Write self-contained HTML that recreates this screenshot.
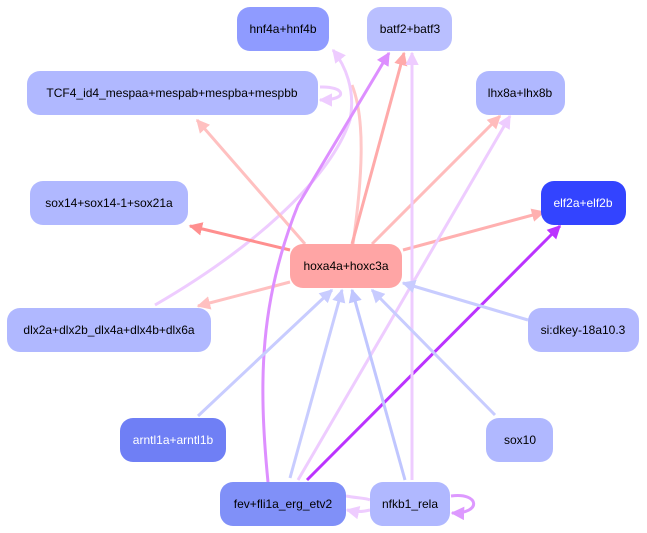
<!DOCTYPE html>
<html><head><meta charset="utf-8"><style>
html,body{margin:0;padding:0;background:#fff;}
svg{display:block;}
text{font-family:"Liberation Sans",sans-serif;font-size:12px;text-anchor:middle;dominant-baseline:central;}
</style></head><body>
<svg width="647" height="533" viewBox="0 0 647 533" xmlns="http://www.w3.org/2000/svg">
<defs>
<marker id="a" viewBox="0 0 10 10" refX="9" refY="5" markerWidth="4.5" markerHeight="4.5" orient="auto" markerUnits="strokeWidth"><path d="M0,0 L10,5 L0,10 z" fill="context-stroke"/></marker>
</defs>
<g fill="none" stroke-width="3" marker-end="url(#a)">
<path d="M353,244 C362,180 366,120 352,85" stroke="#ffc8c8" marker-end="none"/>
<path d="M155,305 C250,250 330,180 350,120 C356,90 345,65 333,50" stroke="#eeccff"/>
<path d="M305,244 L197,120" stroke="#ffc0c0"/>
<path d="M290,250 L190,226" stroke="#ff8f8f"/>
<path d="M290,282 L198,306" stroke="#ffc0c0"/>
<path d="M403,250 L544,212" stroke="#ffb0b0"/>
<path d="M372,244 L500,116" stroke="#ffbcbc"/>
<path d="M352,244 L404,53" stroke="#ffaaaa"/>
<path d="M268,482 C258,380 260,300 298,205 L389,53" stroke="#dd8fff"/>
<path d="M307,480 L560,226" stroke="#bb33ff"/>
<path d="M290,478 L342,290" stroke="#c8ccff"/>
<path d="M298,480 L510,116" stroke="#eeccff"/>
<path d="M405,480 L352,290" stroke="#c0c6ff"/>
<path d="M412,480 L412,53" stroke="#eeccff"/>
<path d="M198,416 L332,290" stroke="#c8ccff"/>
<path d="M495,415 L372,290" stroke="#c8ccff"/>
<path d="M528,320 L403,283" stroke="#c8ccff"/>
<path d="M346,496 C356,498 366,498 370,500" stroke="#eeccff" marker-end="none"/>
<path d="M370,510 C362,512 356,512 347,510" stroke="#eeccff"/>
<path d="M320,87 C345,86 350,100 320,100" stroke="#eeccff"/>
<path d="M451,496 C480,492 482,514 452,513" stroke="#dd99ff"/>
</g>
<g>
<rect x="237" y="7" width="92" height="44" rx="13" fill="#8f9bff"/><text x="283" y="29">hnf4a+hnf4b</text>
<rect x="367" y="7" width="85" height="44" rx="13" fill="#b9bfff"/><text x="410" y="29">batf2+batf3</text>
<rect x="27" y="71" width="291" height="44" rx="13" fill="#b0b8ff"/><text x="172" y="93">TCF4_id4_mespaa+mespab+mespba+mespbb</text>
<rect x="476" y="71" width="89" height="44" rx="13" fill="#b0b8ff"/><text x="520" y="93">lhx8a+lhx8b</text>
<rect x="30" y="181" width="158" height="44" rx="13" fill="#b0b8ff"/><text x="109" y="203">sox14+sox14-1+sox21a</text>
<rect x="541" y="181" width="85" height="44" rx="13" fill="#3344ff"/><text x="583" y="203" fill="#fff">elf2a+elf2b</text>
<rect x="290" y="244" width="112" height="44" rx="13" fill="#ffa5a5"/><text x="346" y="266">hoxa4a+hoxc3a</text>
<rect x="7" y="308" width="204" height="44" rx="13" fill="#b0b8ff"/><text x="109" y="330">dlx2a+dlx2b_dlx4a+dlx4b+dlx6a</text>
<rect x="528" y="308" width="111" height="44" rx="13" fill="#b3b9ff"/><text x="583" y="330">si:dkey-18a10.3</text>
<rect x="120" y="418" width="106" height="44" rx="13" fill="#6f7ff5"/><text x="173" y="440" fill="#fff">arntl1a+arntl1b</text>
<rect x="486" y="418" width="67" height="44" rx="13" fill="#b0b8ff"/><text x="520" y="440">sox10</text>
<rect x="220" y="482" width="126" height="44" rx="13" fill="#8090f8"/><text x="283" y="504">fev+fli1a_erg_etv2</text>
<rect x="370" y="482" width="80" height="44" rx="13" fill="#b0b8ff"/><text x="410" y="504">nfkb1_rela</text>
</g>
</svg>
</body></html>
